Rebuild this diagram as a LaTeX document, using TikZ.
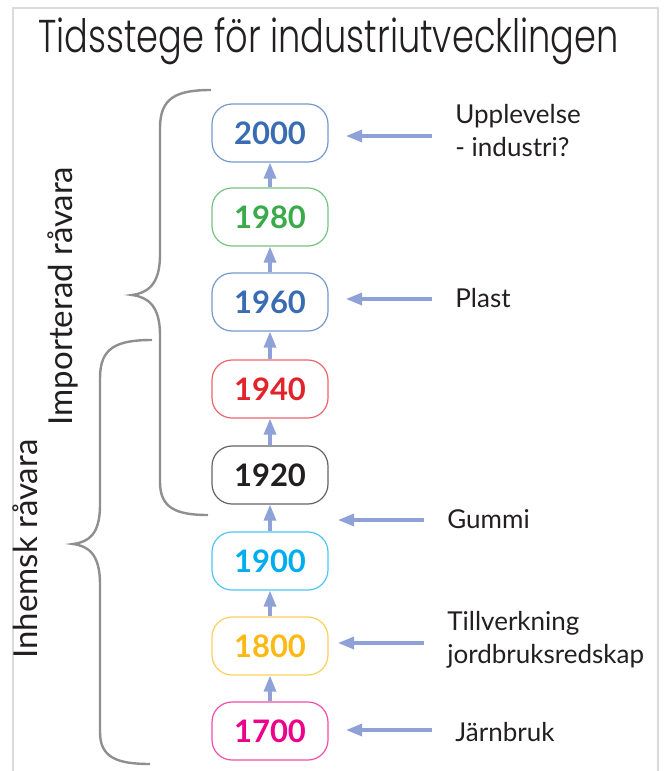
\documentclass[tikz,border=0pt]{standalone}
\usepackage{fontspec}
\setmainfont{Lato}
\newfontfamily\titlefont{Poppins Light}[FakeStretch=0.765]
\usetikzlibrary{arrows.meta}

\definecolor{blue2000}{HTML}{3A6CB4}
\definecolor{green1980}{HTML}{3BAA4A}
\definecolor{red1940}{HTML}{E3232B}
\definecolor{black1920}{HTML}{231F20}
\definecolor{cyan1900}{HTML}{00AEEF}
\definecolor{yellow1800}{HTML}{FDB913}
\definecolor{pink1700}{HTML}{EC008C}
\definecolor{arrowblue}{HTML}{8EA2D8}
\definecolor{bracegray}{HTML}{8F8F92}
\definecolor{framegray}{HTML}{DADADA}

\tikzset{
  yearbox/.style={draw=#1!70, text=#1, line width=0.6pt, rounded corners=10pt,
    minimum width=58pt, minimum height=29pt, inner sep=0pt,
    font=\fontsize{15.5}{18}\selectfont\bfseries},
  uparr/.style={-{Triangle[width=6pt,length=8pt]}, arrowblue, line width=1.6pt},
  pointer/.style={-{Triangle[width=6pt,length=8pt]}, arrowblue, line width=1.6pt,
    shorten <=11.5pt},
  lab/.style={inner sep=0pt, text=black1920, align=left,
    font=\fontsize{13}{16.5}\selectfont},
  sidelab/.style={rotate=90, anchor=base, inner sep=0pt, text=black1920,
    font=\fontsize{16.5}{20}\selectfont},
  bracepath/.style={bracegray, line width=1.2pt}
}

\begin{document}
\begin{tikzpicture}[x=0.5pt,y=-0.5pt]
%\draw[help lines,step=50] (0,0) grid (670,771);
\useasboundingbox (0,0) rectangle (670,771);
\draw[framegray, line width=0.6pt] (13,771) -- (13,8) -- (658,8) -- (658,771);

\node[anchor=base west, inner sep=0pt, text=black1920,
  font=\titlefont\fontsize{23}{28}\selectfont] (title) at (38,52)
  {Tidsstege för industriutvecklingen};

\node[yearbox=blue2000]   (n8) at (270,133) {2000};
\node[yearbox=green1980]  (n7) at (270,217) {1980};
\node[yearbox=blue2000]   (n6) at (270,302) {1960};
\node[yearbox=red1940]    (n5) at (270,389) {1940};
\node[yearbox=black1920]  (n4) at (270,475) {1920};
\node[yearbox=cyan1900]   (n3) at (270,561) {1900};
\node[yearbox=yellow1800] (n2) at (270,646) {1800};
\node[yearbox=pink1700]   (n1) at (270,731) {1700};

\draw[uparr] (n1) -- (n2);
\draw[uparr] (n2) -- (n3);
\draw[uparr] (n3) -- (n4);
\draw[uparr] (n4) -- (n5);
\draw[uparr] (n5) -- (n6);
\draw[uparr] (n6) -- (n7);
\draw[uparr] (n7) -- (n8);

\node[lab, anchor=north west] (l8) at (455,104) {Upplevelse\\- industri?};
\node[lab, anchor=base west]  (l6) at (455,307) {Plast};
\node[lab, anchor=base west]  (lg) at (447,528) {Gummi};
\node[lab, anchor=north west] (l2) at (447,611) {Tillverkning\\jordbruksredskap};
\node[lab, anchor=base west]  (l1) at (455,741) {Järnbruk};

\coordinate (t8) at (346,136);
\coordinate (t6) at (346,299);
\coordinate (tg) at (338,520);
\coordinate (t2) at (338,643);
\coordinate (t1) at (346,730);
\draw[pointer] (t8 -| l8.west) -- (t8);
\draw[pointer] (t6 -| l6.west) -- (t6);
\draw[pointer] (tg -| lg.west) -- (tg);
\draw[pointer] (t2 -| l2.west) -- (t2);
\draw[pointer] (t1 -| l1.west) -- (t1);

% braces
\draw[bracepath] (211,90) .. controls (176,90) and (160,98) .. (160,128) -- (160,255)
  .. controls (160,284) and (148,293) .. (132,295)
  .. controls (148,297) and (160,306) .. (160,335) -- (160,482)
  .. controls (160,508) and (176,515) .. (208,515);
\draw[bracepath] (152,340) .. controls (116,340) and (100,348) .. (100,378) -- (100,505)
  .. controls (100,534) and (89,542) .. (73,544)
  .. controls (89,546) and (100,555) .. (100,584) -- (100,732)
  .. controls (100,757) and (116,764) .. (150,764);

\node[sidelab] (imp) at (72,296) {Importerad råvara};
\node[sidelab] (inh) at (37,549) {Inhemsk råvara};
\end{tikzpicture}
\end{document}
